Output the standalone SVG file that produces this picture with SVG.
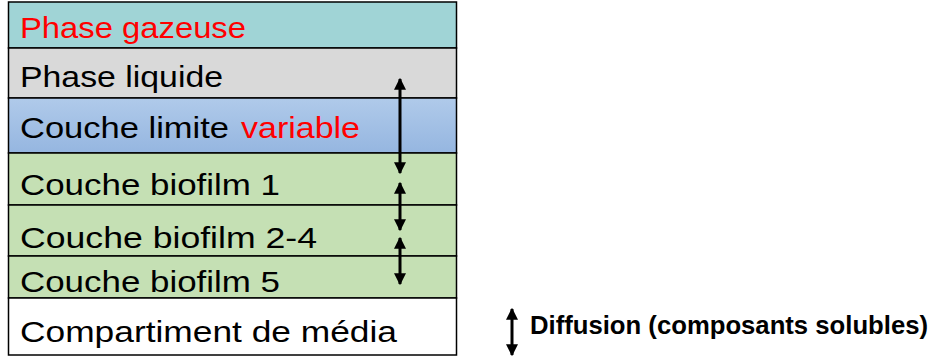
<svg xmlns="http://www.w3.org/2000/svg" width="933" height="359" viewBox="0 0 933 359">
<defs>
<linearGradient id="gBlue" x1="0" y1="0" x2="0" y2="1">
<stop offset="0" stop-color="#B0CAEA"/>
<stop offset="1" stop-color="#95B6E0"/>
</linearGradient>
<marker id="ah" viewBox="0 0 10 10" refX="9" refY="5" markerWidth="4" markerHeight="4" orient="auto-start-reverse" markerUnits="strokeWidth">
<path d="M0,0 L10,5 L0,10 z" fill="#000"/>
</marker>
<style>
.layer{stroke:#000;stroke-width:1.5}
.lbl{font-family:"Liberation Sans","Noto Sans",Arial,sans-serif;font-size:30px;fill:#000}
.red{fill:#FF0000}
.arr{stroke:#000;stroke-width:3;fill:none;marker-start:url(#ah);marker-end:url(#ah)}
.leg{font-family:"Liberation Sans",Arial,sans-serif;font-size:25px;font-weight:bold;fill:#000}
</style>
</defs>
<rect width="933" height="359" fill="#fff"/>
<g id="phase-gazeuse">
<rect class="layer" x="8.5" y="2" width="448" height="46" fill="#A0D4D6"/>
<text class="lbl red" x="20" y="38" textLength="226" lengthAdjust="spacingAndGlyphs">Phase gazeuse</text>
</g>
<g id="phase-liquide">
<rect class="layer" x="8.5" y="48" width="448" height="50" fill="#D9D9D9"/>
<text class="lbl" x="20" y="87" textLength="203" lengthAdjust="spacingAndGlyphs">Phase liquide</text>
</g>
<g id="couche-limite">
<rect class="layer" x="8.5" y="98" width="448" height="55" fill="url(#gBlue)"/>
<text class="lbl" x="20" y="138"><tspan textLength="209" lengthAdjust="spacingAndGlyphs">Couche limite</tspan><tspan class="red" x="241" textLength="119" lengthAdjust="spacingAndGlyphs">variable</tspan></text>
</g>
<g id="biofilm-1">
<rect class="layer" x="8.5" y="153" width="448" height="52" fill="#C5E0B4"/>
<text class="lbl" x="20" y="195" textLength="260" lengthAdjust="spacingAndGlyphs">Couche biofilm 1</text>
</g>
<g id="biofilm-2-4">
<rect class="layer" x="8.5" y="205" width="448" height="51" fill="#C5E0B4"/>
<text class="lbl" x="20" y="248" textLength="297" lengthAdjust="spacingAndGlyphs">Couche biofilm 2-4</text>
</g>
<g id="biofilm-5">
<rect class="layer" x="8.5" y="256" width="448" height="42" fill="#C5E0B4"/>
<text class="lbl" x="20" y="292" textLength="260" lengthAdjust="spacingAndGlyphs">Couche biofilm 5</text>
</g>
<g id="compartiment-media">
<rect class="layer" x="8.5" y="298" width="448" height="57" fill="#FFFFFF"/>
<text class="lbl" x="20" y="342" textLength="377" lengthAdjust="spacingAndGlyphs">Compartiment de média</text>
</g>
<g id="connectors">
<line class="arr" x1="400" y1="79" x2="400" y2="173"/>
<line class="arr" x1="400" y1="183" x2="400" y2="230"/>
<line class="arr" x1="400" y1="238" x2="400" y2="284"/>
</g>
<g id="legend">
<line class="arr" x1="512" y1="309" x2="512" y2="355"/>
<text class="leg" x="530" y="334" textLength="398" lengthAdjust="spacingAndGlyphs">Diffusion (composants solubles)</text>
</g>
</svg>
